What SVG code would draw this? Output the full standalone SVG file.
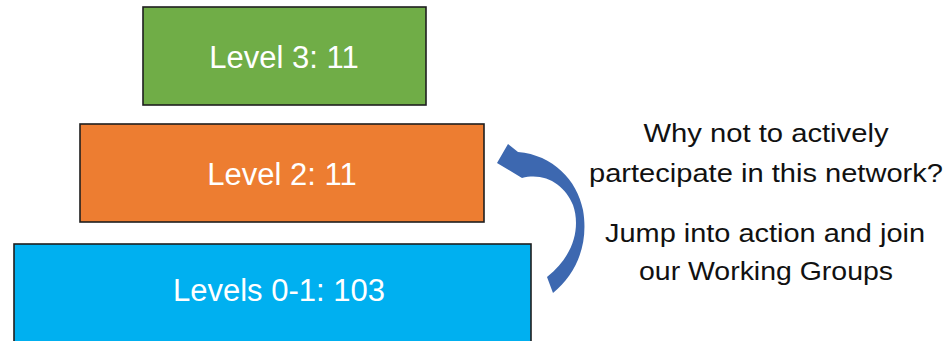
<svg xmlns="http://www.w3.org/2000/svg" width="951" height="341" viewBox="0 0 951 341">
<style>
.box{stroke:#1e1e1e;stroke-width:1.6}
.lbl{font-family:"Liberation Sans",Arial,sans-serif;font-size:31px;fill:#ffffff;text-anchor:middle}
.note{font-family:"Liberation Sans",Arial,sans-serif;font-size:25px;fill:#111111;text-anchor:middle}
</style>
<rect width="951" height="341" fill="#ffffff"/>
<g id="level3">
<rect class="box" x="143" y="7" width="283" height="98" fill="#70AD47"/>
<text class="lbl" x="284" y="68">Level 3: 11</text>
</g>
<g id="level2">
<rect class="box" x="80" y="124" width="404" height="98" fill="#ED7D31"/>
<text class="lbl" x="282" y="185">Level 2: 11</text>
</g>
<g id="level01">
<rect class="box" x="14" y="244" width="517" height="110" fill="#00B0F0"/>
<text class="lbl" x="279" y="301">Levels 0-1: 103</text>
</g>
<g id="connectors">
<path d="M553,293 C576,274 589,245 583,210 C577,180 553,155 518,152 L508,144 L497,163 L522,178 C545,172 565,185 573,205 C580,225 576,254 547,277 Z" fill="#3D68B0"/>
</g>
<g id="message">
<text class="note" x="766" y="142" textLength="245" lengthAdjust="spacingAndGlyphs">Why not to actively</text>
<text class="note" x="766" y="182" textLength="354" lengthAdjust="spacingAndGlyphs">partecipate in this network?</text>
<text class="note" x="765" y="242" textLength="320" lengthAdjust="spacingAndGlyphs">Jump into action and join</text>
<text class="note" x="766" y="280" textLength="254" lengthAdjust="spacingAndGlyphs">our Working Groups</text>
</g>
</svg>
